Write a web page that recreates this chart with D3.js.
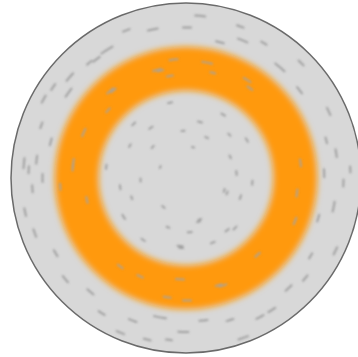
<!DOCTYPE html>
<html lang="en">
	<head>
		<meta charset="utf-8">
		<title>Disk</title>
		<script src="https://d3js.org/d3.v7.min.js"></script>
		<style type="text/css">
			body { margin: 0; background: #fff; }
		</style>
	</head>
	<body>
<div id="disk"></div>
		<script type="text/javascript">
//Ring limits, as fraction of disk radius
var ringInner = 0.5;
var ringOuter = 0.75;

//Streaks: [angle in degrees (0 = east, clockwise), radius fraction, length]
var outerDashes = [
	[-102.6, 0.87, 12], [-89.6, 0.86, 10], [-85, 0.93, 12], [-76, 0.80, 10],
	[-67.6, 0.85, 12], [-70.3, 0.92, 9], [-49.7, 0.83, 14], [-121.7, 0.86, 15],
	[-127, 0.85, 10], [-139, 0.88, 12], [-174.8, 0.93, 12], [-173, 0.86, 10],
	[-151, 0.93, 10], [-144, 0.83, 12], [-130, 0.86, 8], [-145.6, 0.92, 9],
	[180, 0.82, 10], [176, 0.88, 9], [-177, 0.90, 9], [-2, 0.79, 10],
	[-9.4, 0.87, 10], [1.8, 0.90, 9], [11, 0.86, 12], [-3, 0.94, 8],
	[100.6, 0.81, 14], [91, 0.88, 12], [113, 0.96, 10], [103.5, 0.95, 9],
	[83, 0.82, 10], [72.8, 0.85, 9], [62, 0.90, 10], [70.3, 0.97, 12],
	[110.5, 0.87, 10], [26, 0.95, 10], [16.9, 0.79, 9], [47, 0.86, 10],
	[40, 0.89, 9], [57, 0.90, 10], [130, 0.85, 10], [140, 0.90, 10],
	[150, 0.86, 9], [160, 0.92, 10], [-37.7, 0.82, 10], [-25, 0.90, 10],
	[-45, 0.93, 9], [-165, 0.80, 9], [168, 0.94, 10], [-160, 0.88, 8],
	[122, 0.91, 9], [96, 0.93, 8], [-112, 0.91, 9], [-60, 0.89, 8],
	[-15, 0.83, 8], [32, 0.84, 8]
];

var ringDashes = [
	[-96, 0.68, 10], [-79.6, 0.67, 12], [-105, 0.64, 10], [-99, 0.59, 8],
	[-58, 0.66, 10], [-54.6, 0.63, 8], [-131, 0.66, 10], [-75.7, 0.62, 7],
	[-103.5, 0.63, 8], [-129.7, 0.65, 8], [-156, 0.64, 10], [-172.4, 0.65, 10],
	[-139, 0.59, 7], [-174.5, 0.65, 9], [167.5, 0.58, 8], [176, 0.72, 8],
	[93.4, 0.58, 10], [89.5, 0.70, 10], [71, 0.65, 9], [115, 0.62, 8],
	[126.6, 0.63, 8], [99, 0.69, 9], [47, 0.60, 8], [21.5, 0.67, 9],
	[73, 0.64, 8], [-7.5, 0.66, 9], [7.7, 0.64, 9]
];

var innerDashes = [
	[-102, 0.44, 6], [-93.6, 0.27, 5], [-63, 0.26, 5], [-76, 0.33, 6],
	[-59.6, 0.42, 6], [-25.5, 0.28, 5], [-5.6, 0.29, 6], [20, 0.25, 5],
	[19.4, 0.33, 6], [71.6, 0.25, 5], [86, 0.31, 6], [128, 0.21, 5],
	[177.5, 0.26, 5], [148, 0.42, 7], [-172, 0.46, 6], [-137, 0.26, 5],
	[-134, 0.43, 6], [-125, 0.35, 6], [95, 0.39, 7], [51.7, 0.38, 6],
	[67.5, 0.40, 6], [124.7, 0.43, 6], [-32, 0.41, 6], [4, 0.38, 6],
	[172, 0.38, 6], [-157, 0.16, 4], [-77, 0.18, 4], [74, 0.26, 5],
	[45.6, 0.40, 6], [18, 0.23, 5], [94, 0.40, 6], [-45, 0.35, 5],
	[160, 0.33, 5], [110, 0.30, 5], [-150, 0.37, 5]
];

//Width and height
var w = 358;
var h = 357;
var cx = 186;
var cy = 178;
var R = 175;

//Radius scale
var rScale = d3.scaleLinear()
	.domain([0, 1])
	.range([0, R]);

//Create SVG element
var svg = d3.select("div#disk")
	.append("svg")
	.attr("width", w)
	.attr("height", h);

var defs = svg.append("defs");
defs.append("filter").attr("id", "soft")
	.attr("x", "-20%").attr("y", "-20%").attr("width", "140%").attr("height", "140%")
	.append("feGaussianBlur").attr("stdDeviation", 3);
defs.append("filter").attr("id", "streak")
	.attr("x", "-50%").attr("y", "-50%").attr("width", "200%").attr("height", "200%")
	.append("feGaussianBlur").attr("stdDeviation", 0.8);

var g = svg.append("g")
	.attr("transform", "translate(" + cx + "," + cy + ")");

//Disk
g.append("circle")
	.attr("r", rScale(1))
	.attr("fill", "#d8d8d8")
	.attr("stroke", "#6a6a6a")
	.attr("stroke-width", 1.5);

//Orange ring
var ringArc = d3.arc()
	.innerRadius(rScale(ringInner))
	.outerRadius(rScale(ringOuter))
	.startAngle(0)
	.endAngle(2 * Math.PI);

g.append("path")
	.attr("d", ringArc())
	.attr("fill", "#ff990d")
	.attr("filter", "url(#soft)");

//Streak as a short arc along its circle
var dashArc = d3.arc()
	.innerRadius(d => rScale(d[1]) - 1)
	.outerRadius(d => rScale(d[1]) + 1)
	.startAngle(d => (d[0] + 90) * Math.PI / 180 - d[2] / 2 / rScale(d[1]))
	.endAngle(d => (d[0] + 90) * Math.PI / 180 + d[2] / 2 / rScale(d[1]))
	.cornerRadius(1);

var streaks = g.append("g").attr("filter", "url(#streak)");

function drawDashes(data, color, op) {
	streaks.append("g")
		.selectAll("path")
		.data(data)
		.enter()
		.append("path")
		.attr("d", dashArc)
		.attr("fill", color)
		.attr("opacity", op);
}

drawDashes(outerDashes, "#8f8f8f", 0.75);
drawDashes(ringDashes, "#a8a39a", 0.9);
drawDashes(innerDashes, "#8f8f8f", 0.75);

		</script>
	</body>
</html>
